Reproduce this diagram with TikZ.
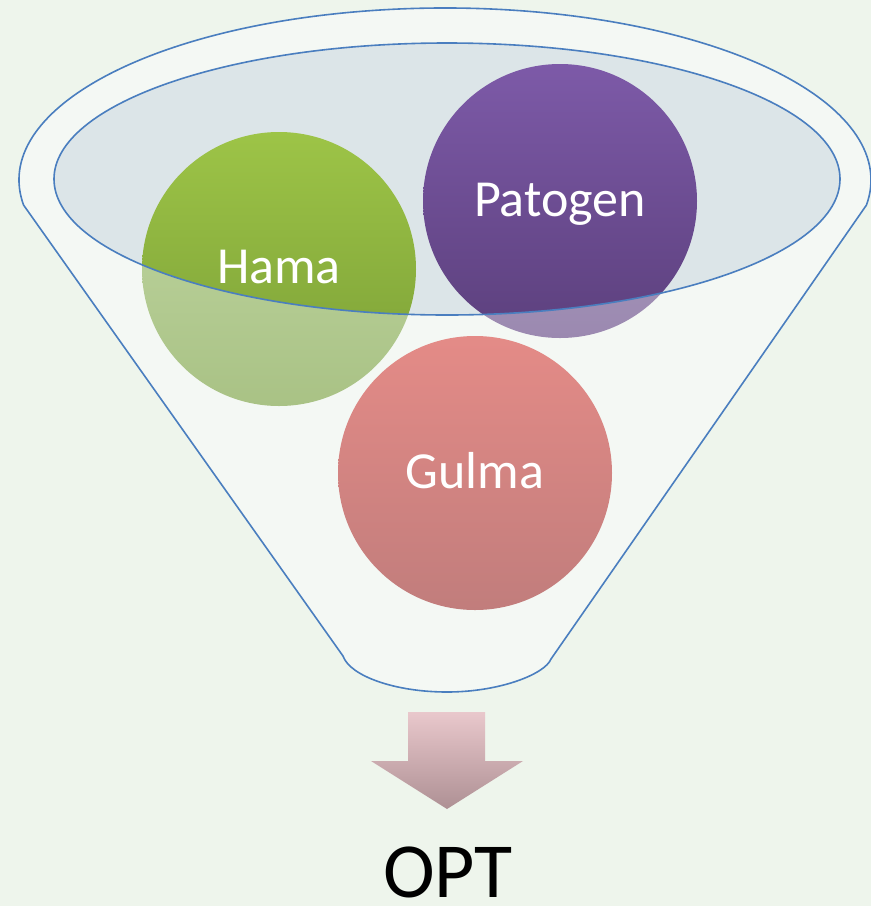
\documentclass[tikz,border=0pt]{standalone}
\usepackage{fontspec}
\setmainfont{Carlito}
\definecolor{bgc}{HTML}{EEF5EC}
\definecolor{funfill}{HTML}{F4F8F4}
\definecolor{funline}{HTML}{4A7EBF}
\definecolor{ellfill}{HTML}{DCE5E8}
\definecolor{gtop}{HTML}{9DC447}
\definecolor{gbot}{HTML}{7A9E36}
\definecolor{gptop}{HTML}{C2D8A4}
\definecolor{gpbot}{HTML}{A9C285}
\definecolor{ptop}{HTML}{7D5AA8}
\definecolor{pbot}{HTML}{5C407D}
\definecolor{pptop}{HTML}{B3A5C8}
\definecolor{ppbot}{HTML}{9B89B0}
\definecolor{rtop}{HTML}{E48B87}
\definecolor{rbot}{HTML}{C17D7C}
\definecolor{atop}{HTML}{E9C8CC}
\definecolor{abot}{HTML}{AE9094}
\tikzset{
  funnelline/.style={draw=funline, line width=1.6pt},
  lbl/.style={text=white, font=\fontsize{52}{60}\selectfont, anchor=base, inner sep=0pt},
}
\begin{document}
\begin{tikzpicture}[x=1pt,y=-1pt]
\useasboundingbox (0,0) rectangle (871,906);
\fill[bgc] (0,0) rectangle (871,906);
% funnel body
\path[funnelline, fill=funfill] (23.6,205.1) arc[start angle=171.6, end angle=368.4, x radius=426, y radius=172]
  -- (551,659) .. controls (545,674) and (500,692) .. (447,692)
  .. controls (395,692) and (350,676) .. (343,656) -- cycle;
% pale circles (outside inner ellipse)
\shade[top color=gptop, bottom color=gpbot] (279,269) circle[radius=137];
\shade[top color=pptop, bottom color=ppbot] (560,201) circle[radius=137];
\shade[top color=rtop, bottom color=rbot] (475,473) circle[radius=137];
% inner ellipse
\fill[ellfill] (447,179) ellipse[x radius=393, y radius=136];
\begin{scope}
  \clip (447,179) ellipse[x radius=393, y radius=136];
  \shade[top color=gtop, bottom color=gbot] (279,269) circle[radius=137];
  \shade[top color=ptop, bottom color=pbot] (560,201) circle[radius=137];
\end{scope}
\draw[funnelline] (447,179) ellipse[x radius=393, y radius=136];
% labels
\node[lbl] (hama) at (279,283) {Hama};
\node[lbl] (patogen) at (560,216) {Patogen};
\node[lbl] (gulma) at (475,488) {Gulma};
% arrow
\shade[top color=atop, bottom color=abot] (408,712) -- (485,712) -- (485,761) -- (523,761) -- (447,809) -- (371,761) -- (408,761) -- cycle;
\node[anchor=base, inner sep=0pt, font=\fontsize{78}{90}\selectfont, text=black] (opt) at (448,897) {OPT};
\end{tikzpicture}
\end{document}
